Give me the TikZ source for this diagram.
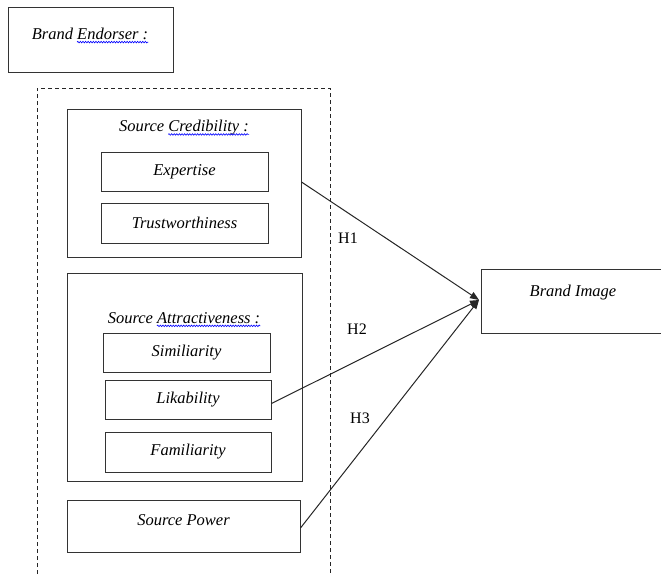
\documentclass[tikz,border=0pt]{standalone}
\usepackage{fontspec}
\setmainfont{Liberation Serif}
\usetikzlibrary{arrows.meta,decorations.pathmorphing}
\newcommand\bluewave[1]{\tikz[baseline=(w.base)]{\node[inner sep=0pt, draw=none, minimum width=0pt, minimum height=0pt] (w) {#1};
  \draw[overlay, blue, line width=0.6pt, decorate, decoration={snake, amplitude=0.8pt, segment length=2.6pt}] ([yshift=-2.5pt]w.base west) -- ([yshift=-2.5pt]w.base east);}}
\tikzset{
  box/.style={draw=black!80, line width=1pt, rectangle, inner sep=0pt},
  lbl/.style={font=\fontsize{16.5}{19}\selectfont\itshape, inner sep=0pt, anchor=center},
  hyp/.style={font=\fontsize{16}{19}\selectfont, inner sep=0pt},
  conn/.style={draw=black!85, line width=1pt, -{Triangle[length=9pt,width=7pt]}},
  dashbox/.style={draw=black!85, line width=0.9pt, dash pattern=on 4pt off 3pt}
}
\begin{document}
\begin{tikzpicture}[x=1pt,y=-1pt]
\useasboundingbox (0,0) rectangle (661,574);
% Brand Endorser
\node[box, minimum width=165pt, minimum height=65pt] (be) at (90.5,39.5) {};
\node[lbl] (betxt) at (90,34) {Brand \bluewave{Endorser :}};
% dashed frame (open at the bottom)
\coordinate (d1) at (37,574);
\coordinate (d2) at (37,88);
\coordinate (d3) at (330,88);
\coordinate (d4) at (330,574);
\draw[dashbox] (d1) -- (d2) -- (d3) -- (d4);
% Source Credibility
\node[box, minimum width=234pt, minimum height=148pt] (sc) at (184,183) {};
\node[lbl] (sctxt) at (184,128) {Source \bluewave{Credibility :}};
\node[box, minimum width=167pt, minimum height=39pt, lbl] (exp) at (184.5,171.5) {Expertise};
\node[box, minimum width=167pt, minimum height=40pt, lbl] (tru) at (184.5,223) {Trustworthiness};
% Source Attractiveness
\node[box, minimum width=235pt, minimum height=208pt] (sa) at (184.5,377) {};
\node[lbl] (satxt) at (184,318) {Source \bluewave{Attractiveness :}};
\node[box, minimum width=167pt, minimum height=39pt, lbl] (sim) at (186.5,352.5) {Similiarity};
\node[box, minimum width=166pt, minimum height=39pt, lbl] (lik) at (188,399.5) {Likability};
\node[box, minimum width=166pt, minimum height=40pt, lbl] (fam) at (188,452) {Familiarity};
% Source Power
\node[box, minimum width=233pt, minimum height=52pt] (sp) at (183.5,526) {};
\node[lbl] (sptxt) at (183.5,520) {Source Power};
% Brand Image (runs past the right edge)
\node[box, minimum width=190pt, minimum height=64pt] (bi) at (576,301) {};
\node[lbl] (bitxt) at (573,293) {Brand Image};
% connectors
\coordinate (tip) at (479,300);
\draw[conn] ([yshift=1pt]sc.east) -- (tip);
\draw[conn] ([yshift=-4pt]lik.east) -- (tip);
\draw[conn] ([yshift=-2pt]sp.east) -- (tip);
% hypothesis labels
\node[hyp] (h1) at (348,238) {H1};
\node[hyp] (h2) at (357,329) {H2};
\node[hyp] (h3) at (360,418) {H3};
\end{tikzpicture}
\end{document}
